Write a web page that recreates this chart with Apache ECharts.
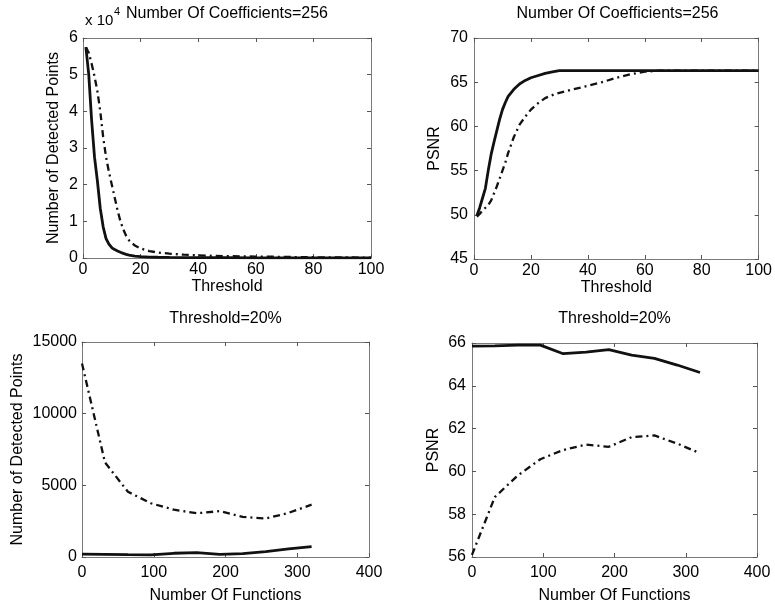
<!DOCTYPE html>
<html><head><meta charset="utf-8">
<script src="https://cdn.jsdelivr.net/npm/echarts@6/dist/echarts.min.js"></script>
<style>html,body{margin:0;padding:0;background:#fff}#c{width:775px;height:605px}</style>
</head><body><div id="c"></div>
<script>
// ---- Data ----
const thresholds1 = [1,2,3,4,5,6,7,8,9,10,11,12,13,14,15,16,18,20,23,26,30,35,40,50,60,70,80,90,100];
const detectedSolid1 = [57500,50000,37500,27500,21000,13500,8500,5300,3800,2800,2300,1900,1550,1250,1000,800,500,350,250,200,150,120,100,80,60,50,40,30,20];
const detectedDash1 = [57500,56000,53000,49500,45500,40000,33000,27500,23500,20000,16500,13000,10000,7800,6000,4800,3400,2600,1900,1500,1200,900,700,500,400,300,200,150,100];

const thresholds2 = [1,2,3,4,5,6,7,8,9,10,11,12,14,16,18,20,22,25,28,30,35,40,45,50,55,60,65,70,80,90,100];
const psnrSolid1 = [49.9,50.8,51.9,53.0,55.0,56.8,58.2,59.5,60.8,61.9,62.7,63.4,64.2,64.8,65.2,65.5,65.7,66.0,66.2,66.3,66.3,66.3,66.3,66.3,66.3,66.3,66.3,66.3,66.3,66.3,66.3];
const psnrDash1 = [49.8,50.1,50.5,50.8,51.1,51.6,52.4,53.2,54.1,55.0,55.9,57.0,58.8,60.2,61.1,61.9,62.5,63.2,63.6,63.8,64.2,64.6,65.0,65.5,65.9,66.2,66.3,66.3,66.3,66.3,66.3];

const functionsCount = [0,32,64,96,128,160,192,224,256,288,320];
const detectedSolid2 = [200,190,160,150,260,300,180,240,380,560,720];
const detectedDash2 = [13500,6600,4550,3750,3300,3050,3200,2800,2680,3080,3650];
const psnrSolid2 = [65.85,65.87,65.9,65.9,65.5,65.57,65.69,65.43,65.28,64.97,64.62];
const psnrDash2 = [56.1,58.8,59.8,60.57,61.0,61.25,61.15,61.6,61.68,61.3,60.85];

const panelTitles = ['Number Of Coefficients=256','Number Of Coefficients=256','Threshold=20%','Threshold=20%'];
const xNames = ['Threshold','Threshold','Number Of Functions','Number Of Functions'];
const yNames = ['Number of Detected Points','PSNR','Number of Detected Points','PSNR'];
const exponentBase = 'x 10';
const exponentPower = '4';

// ---- Layout / styles ----
const FONT = '"Liberation Sans", Arial, Helvetica, sans-serif';
const frameColor = '#7a7a7a';
const lineColor = '#111';
const grids = [
  {left: 83, top: 38, width: 288, height: 220},
  {left: 474, top: 38, width: 287, height: 221},
  {left: 82, top: 342, width: 287, height: 218},
  {left: 472, top: 343, width: 285, height: 218}
];
const xRanges = [[0,100,20],[0,100,20],[0,400,100],[0,400,100]];
const yRanges = [[0,60000,10000],[45,70,5],[0,15000,5000],[56,66,2]];
const xNameGaps = [18,18,31,31];
const xLabelMargins = [4,4,8,8];
const yNameGaps = [21,31,56,30];
const yLabelMargins = [5,6,5,6];

const xAxes = [], yAxes = [];
for (let i = 0; i < 4; i++) {
  const [xmin, xmax, xint] = xRanges[i];
  const [ymin, ymax, yint] = yRanges[i];
  xAxes.push({
    type: 'value', gridIndex: i, position: 'bottom', min: xmin, max: xmax, interval: xint,
    axisLine: {show: true, onZero: false, lineStyle: {color: frameColor, width: 1}},
    axisTick: {show: true, inside: true, length: 4, lineStyle: {color: '#555'}},
    splitLine: {show: false},
    name: xNames[i], nameLocation: 'middle', nameGap: xNameGaps[i],
    nameTextStyle: {color: '#000', fontSize: 16, fontFamily: FONT},
    axisLabel: {color: '#000', fontSize: 16, fontFamily: FONT, margin: xLabelMargins[i]}
  });
  yAxes.push({
    type: 'value', gridIndex: i, position: 'left', min: ymin, max: ymax, interval: yint,
    axisLine: {show: true, onZero: false, lineStyle: {color: frameColor, width: 1}},
    axisTick: {show: true, inside: true, length: 4, lineStyle: {color: '#555'}},
    splitLine: {show: false},
    name: yNames[i], nameLocation: 'middle', nameGap: yNameGaps[i], nameRotate: 90,
    nameTextStyle: {color: '#000', fontSize: 16, fontFamily: FONT},
    axisLabel: {color: '#000', fontSize: 16, fontFamily: FONT, margin: yLabelMargins[i],
      formatter: i === 0 ? (v => String(v / 10000)) : (v => String(v))}
  });
}
for (let i = 0; i < 4; i++) {
  const [xmin, xmax, xint] = xRanges[i];
  const [ymin, ymax, yint] = yRanges[i];
  xAxes.push({type: 'value', gridIndex: i, position: 'top', min: xmin, max: xmax, interval: xint,
    axisLine: {show: true, onZero: false, lineStyle: {color: frameColor}},
    axisTick: {show: true, inside: true, length: 4, lineStyle: {color: '#555'}},
    axisLabel: {show: false}, splitLine: {show: false}});
  yAxes.push({type: 'value', gridIndex: i, position: 'right', min: ymin, max: ymax, interval: yint,
    axisLine: {show: true, onZero: false, lineStyle: {color: frameColor}},
    axisTick: {show: true, inside: true, length: 4, lineStyle: {color: '#555'}},
    axisLabel: {show: false}, splitLine: {show: false}});
}

function pairs(xs, ys) { return xs.map((x, k) => [x, ys[k]]); }
function solid(i, xs, ys) {
  return {type: 'line', xAxisIndex: i, yAxisIndex: i, data: pairs(xs, ys), showSymbol: false,
    silent: true, lineStyle: {color: lineColor, width: 2.8}, z: 3};
}
function dashdot(i, xs, ys) {
  return {type: 'line', xAxisIndex: i, yAxisIndex: i, data: pairs(xs, ys), showSymbol: false,
    silent: true, lineStyle: {color: lineColor, width: 2.3, type: [7, 4, 2, 4]}, z: 3};
}

const titleCenters = grids.map(g => g.left + g.width / 2);
const titleYs = [14, 14, 319, 319];
const graphics = panelTitles.map((t, i) => ({
  type: 'text', x: titleCenters[i], y: titleYs[i],
  style: {text: t, fill: '#000', font: '16px ' + FONT, textAlign: 'center', textVerticalAlign: 'middle'}
}));
graphics.push({type: 'text', x: 85, y: 13,
  style: {text: exponentBase, fill: '#000', font: '15px ' + FONT, textAlign: 'left', textVerticalAlign: 'top'}});
graphics.push({type: 'text', x: 114, y: 6,
  style: {text: exponentPower, fill: '#000', font: '11px ' + FONT, textAlign: 'left', textVerticalAlign: 'top'}});

const chart = echarts.init(document.getElementById('c'), null, {renderer: 'canvas'});
chart.setOption({
  animation: false,
  backgroundColor: '#fff',
  grid: grids.map(g => Object.assign({containLabel: false, show: false}, g)),
  xAxis: xAxes,
  yAxis: yAxes,
  graphic: graphics,
  series: [
    solid(0, thresholds1, detectedSolid1),
    dashdot(0, thresholds1, detectedDash1),
    solid(1, thresholds2, psnrSolid1),
    dashdot(1, thresholds2, psnrDash1),
    solid(2, functionsCount, detectedSolid2),
    dashdot(2, functionsCount, detectedDash2),
    solid(3, functionsCount, psnrSolid2),
    dashdot(3, functionsCount, psnrDash2)
  ]
});
</script></body></html>
